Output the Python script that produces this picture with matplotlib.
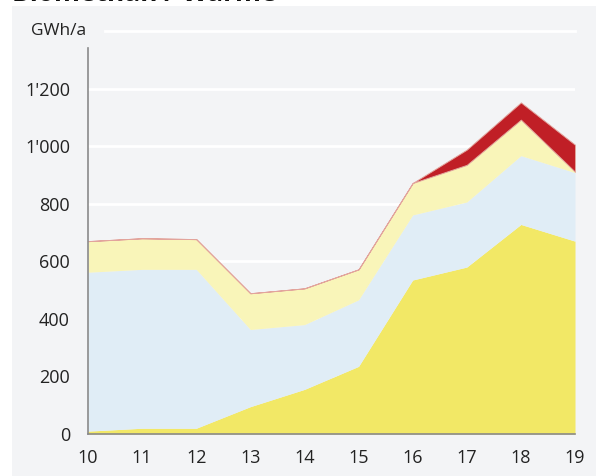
import matplotlib
matplotlib.use("Agg")
import matplotlib.pyplot as plt
from matplotlib.patches import Rectangle

plt.rcParams['font.family'] = ['Open Sans', 'DejaVu Sans']

years = [10, 11, 12, 13, 14, 15, 16, 17, 18, 19]
year_labels = ["10", "11", "12", "13", "14", "15", "16", "17", "18", "19"]
s_yellow = [10, 20, 20, 95, 155, 235, 535, 580, 728, 670]
s_blue = [552, 552, 552, 268, 225, 231, 226, 226, 239, 238]
s_lightyellow = [108, 108, 105, 126, 126, 106, 111, 129, 125, 3]
s_red = [0, 0, 0, 0, 0, 0, 0, 53, 60, 94]
y_ticks = [0, 200, 400, 600, 800, 1000, 1200]
y_tick_labels = ["0", "200", "400", "600", "800", "1'000", "1'200"]
unit_label = "GWh/a"
title = "Biomethan / Wärme"

W, H = 596, 476
fig = plt.figure(figsize=(W / 100, H / 100), dpi=100, facecolor='white')
bg = '#f3f4f6'
fig.patches.append(Rectangle((12 / W, 0), 1 - 12 / W, 1 - 6 / H, transform=fig.transFigure,
                             facecolor=bg, edgecolor='none', zorder=-10))
fig.text(12 / W, 1 - 1 / H, title, fontsize=19, fontweight='bold', va='baseline', ha='left', color='#111111')

x0, x1, yb, yt = 88, 575, 434, 31
ax = fig.add_axes([x0 / W, (H - yb) / H, (x1 - x0) / W, (yb - yt) / H])
ax.set_zorder(1)
ax.set_facecolor(bg)
ax.set_xlim(years[0], years[-1])
ax.set_ylim(0, 1400)

for v in y_ticks[1:]:
    ax.axhline(v, color='white', lw=2, zorder=0.5)
ax.axhline(1400, xmin=(105 - x0) / (x1 - x0), xmax=1, color='white', lw=2, zorder=0.5, clip_on=False)

c1 = [s_yellow[i] for i in range(len(years))]
c2 = [c1[i] + s_blue[i] for i in range(len(years))]
c3 = [c2[i] + s_lightyellow[i] for i in range(len(years))]
c4 = [c3[i] + s_red[i] for i in range(len(years))]

ax.fill_between(years, 0, c1, color='#f2e866', lw=0, zorder=2)
ax.fill_between(years, c1, c2, color='#e0edf6', lw=0, zorder=2)
ax.fill_between(years, c2, c3, color='#f9f5b9', lw=0, zorder=2)
ax.fill_between(years, c3, c4, facecolor='#c01f26', edgecolor='#e2a49c', lw=0.7, zorder=2)

for s in ['top', 'right']:
    ax.spines[s].set_visible(False)
ax.spines['left'].set_color('#8a8a8a')
ax.spines['bottom'].set_color('#8a8a8a')
ax.spines['left'].set_linewidth(1.2)
ax.spines['bottom'].set_linewidth(1.2)
ax.spines['left'].set_bounds(0, 1340)
ax.spines['left'].set_zorder(3)
ax.spines['bottom'].set_zorder(3)

ax.set_yticks(y_ticks)
ax.set_yticklabels(y_tick_labels)
ax.set_xticks(years)
ax.set_xticklabels(year_labels)
ax.tick_params(axis='both', length=0, labelsize=13, colors='#222222')
ax.tick_params(axis='y', pad=13)
ax.tick_params(axis='x', pad=11)

fig.text(31 / W, (H - 31) / H, unit_label, fontsize=12.5, va='center', ha='left', color='#222222')

fig.savefig('out.png', dpi=100, facecolor='white')
